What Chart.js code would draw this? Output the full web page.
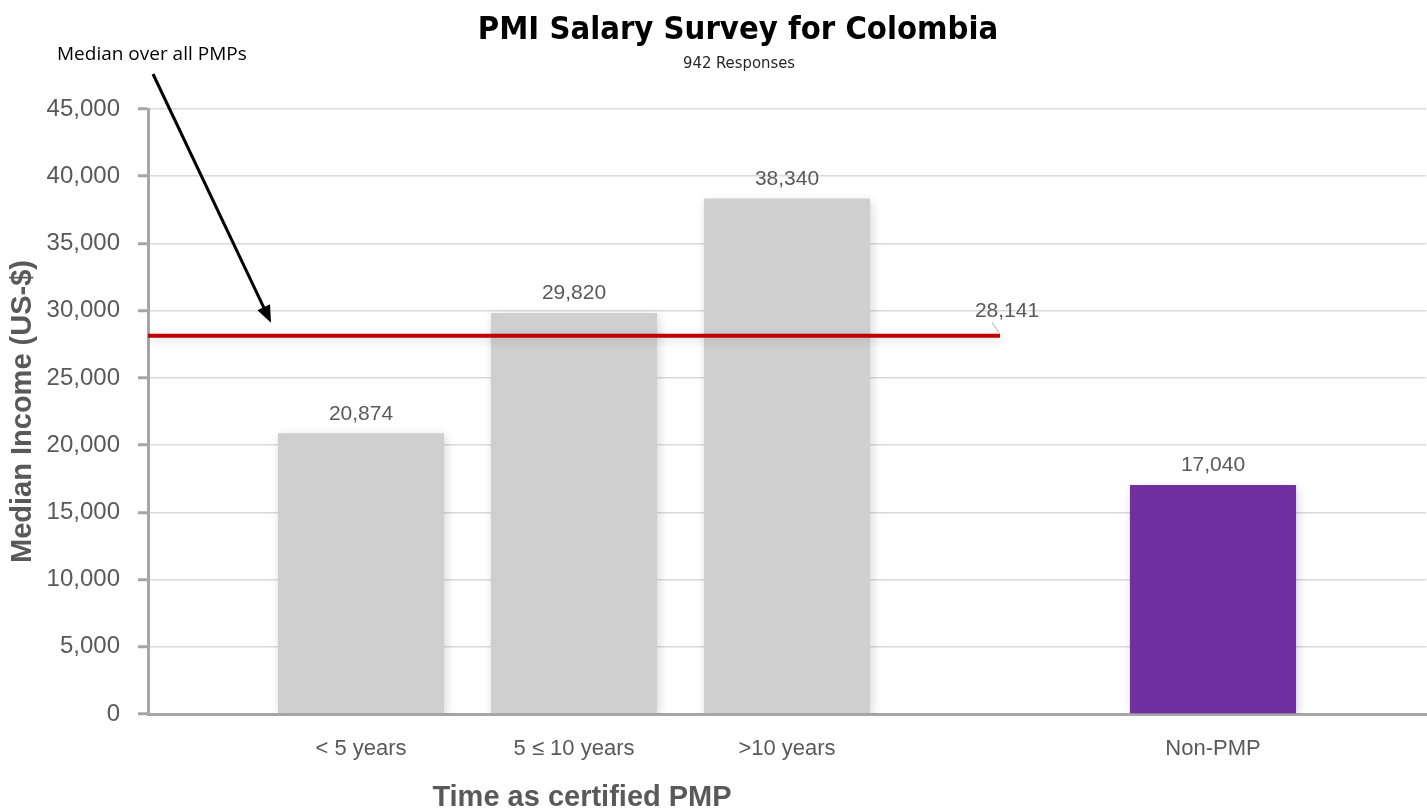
<!DOCTYPE html>
<html>
<head>
<meta charset="utf-8">
<script src="https://cdn.jsdelivr.net/npm/chart.js@4"></script>
<style>
  html, body { margin: 0; background: #fff; overflow: hidden; }
  #wrap { width: 1427px; height: 810px; position: relative; }
  canvas { display: block; }
</style>
</head>
<body>
<div id="wrap"><canvas id="chart"></canvas></div>
<script>
// categories - empty slots keep the spacing of the original chart
const categories = ["", "< 5 years", "5 \u2264 10 years", ">10 years", "", "Non-PMP", ""];
// median income per group (US-$)
const medianIncome = [null, 20874, 29820, 38340, null, 17040, null];
// median over all PMPs, drawn as a flat line
const medianAllPMPs = [28141, 28141, 28141, 28141, 28141, null, null];
const barColors = ["#cfcfcf", "#cfcfcf", "#cfcfcf", "#cfcfcf", "#cfcfcf", "#7030a0", "#cfcfcf"];
const yMin = 0;
const yMax = 45000;
const yStep = 5000;

const titleText = "PMI Salary Survey for Colombia";
const subtitleText = "942 Responses";
const noteText = "Median over all PMPs";

const fmt = (v) => v.toLocaleString("en-US");
const greyText = "#595959";

// soft shadow under bars and line
const shadowPlugin = {
  id: "shadow",
  beforeDatasetDraw(chart) {
    const ctx = chart.ctx;
    ctx.save();
    ctx.shadowColor = "rgba(0,0,0,0.16)";
    ctx.shadowBlur = 10;
    ctx.shadowOffsetX = 2;
    ctx.shadowOffsetY = 3;
  },
  afterDatasetDraw(chart) {
    chart.ctx.restore();
  },
};

// value labels above bars and at the end of the median line
const valueLabels = {
  id: "valueLabels",
  afterDatasetsDraw(chart) {
    const ctx = chart.ctx;
    ctx.save();
    ctx.fillStyle = greyText;
    ctx.font = "21px 'Liberation Sans', Arial, sans-serif";
    ctx.textAlign = "center";
    ctx.textBaseline = "bottom";
    const bars = chart.getDatasetMeta(0).data;
    bars.forEach((el, i) => {
      if (medianIncome[i] == null) return;
      ctx.fillText(fmt(medianIncome[i]), el.x, el.y - 9);
    });
    // label for the line, at its last point
    const pts = chart.getDatasetMeta(1).data;
    let last = 0;
    medianAllPMPs.forEach((v, i) => { if (v != null) last = i; });
    const p = pts[last];
    ctx.fillText(fmt(medianAllPMPs[last]), p.x + 7, p.y - 14);
    ctx.strokeStyle = "#a6a6a6";
    ctx.lineWidth = 1;
    ctx.beginPath();
    ctx.moveTo(p.x - 8, p.y - 13);
    ctx.lineTo(p.x - 1, p.y - 3);
    ctx.stroke();
    ctx.restore();
  },
};

// titles, note with arrow and x axis title
const decorations = {
  id: "decorations",
  afterDraw(chart) {
    const ctx = chart.ctx;
    const x = chart.scales.x;
    const y = chart.scales.y;
    ctx.save();
    ctx.textAlign = "center";
    ctx.textBaseline = "alphabetic";
    ctx.fillStyle = "#000";
    ctx.font = "bold 32.5px 'Liberation Sans Narrow', 'DejaVu Sans Condensed', sans-serif";
    ctx.fillText(titleText, 738, 39);
    ctx.fillStyle = "#262626";
    ctx.font = "16.5px 'Liberation Sans Narrow', 'DejaVu Sans Condensed', sans-serif";
    ctx.fillText(subtitleText, 739, 68);

    ctx.fillStyle = "#000";
    ctx.font = "19px 'Open Sans', 'Liberation Sans', sans-serif";
    ctx.textAlign = "left";
    ctx.fillText(noteText, 57, 60);

    // arrow from the note to the line
    const x0 = 153, y0 = 74;
    const x1 = 271, y1 = y.getPixelForValue(medianAllPMPs[0]) - 13;
    const ang = Math.atan2(y1 - y0, x1 - x0);
    ctx.strokeStyle = "#000";
    ctx.lineWidth = 3;
    ctx.beginPath();
    ctx.moveTo(x0, y0);
    ctx.lineTo(x1 - 12 * Math.cos(ang), y1 - 12 * Math.sin(ang));
    ctx.stroke();
    ctx.beginPath();
    ctx.moveTo(x1, y1);
    ctx.lineTo(x1 - 17 * Math.cos(ang) + 7 * Math.sin(ang), y1 - 17 * Math.sin(ang) - 7 * Math.cos(ang));
    ctx.lineTo(x1 - 17 * Math.cos(ang) - 7 * Math.sin(ang), y1 - 17 * Math.sin(ang) + 7 * Math.cos(ang));
    ctx.closePath();
    ctx.fill();

    // x axis title sits under the PMP groups
    ctx.fillStyle = greyText;
    ctx.textAlign = "center";
    ctx.font = "bold 29px 'Liberation Sans', Arial, sans-serif";
    ctx.fillText("Time as certified PMP", x.getPixelForValue(2) + 8, 806);
    ctx.restore();
  },
};

const ctx = document.getElementById("chart").getContext("2d");
Chart.defaults.font.family = "'Liberation Sans', Arial, sans-serif";

new Chart(ctx, {
  type: "bar",
  data: {
    labels: categories,
    datasets: [
      {
        label: "Median income",
        data: medianIncome,
        backgroundColor: barColors,
        barPercentage: 0.78,
        categoryPercentage: 1,
        order: 1,
      },
      {
        type: "line",
        label: "Median over all PMPs",
        data: medianAllPMPs,
        borderColor: "#c00000",
        borderWidth: 4,
        pointRadius: 0,
        fill: false,
        order: 0,
      },
    ],
  },
  options: {
    responsive: true,
    maintainAspectRatio: false,
    animation: false,
    layout: { padding: { top: 109, right: 1, bottom: 0, left: 0 } },
    plugins: {
      legend: { display: false },
      tooltip: { enabled: false },
    },
    scales: {
      x: {
        offset: false,
        // invisible tick marks give the gap under the axis
        grid: {
          display: true,
          drawOnChartArea: false,
          color: "rgba(0,0,0,0)",
          tickColor: "rgba(0,0,0,0)",
          tickLength: 22,
        },
        border: { color: "#a6a6a6", width: 3 },
        ticks: {
          color: greyText,
          font: { size: 22 },
          padding: 0,
          autoSkip: false,
          maxRotation: 0,
        },
        afterFit(scale) { scale.height = 96; },
      },
      y: {
        min: yMin,
        max: yMax,
        grid: {
          color: "#d9d9d9",
          lineWidth: 1.5,
          tickLength: 10,
          tickColor: "#a6a6a6",
          tickWidth: 3,
        },
        border: { color: "#a6a6a6", width: 3 },
        ticks: {
          stepSize: yStep,
          color: greyText,
          font: { size: 24 },
          padding: 18,
          callback: (v) => fmt(v),
        },
        title: {
          display: true,
          text: "Median Income (US-$)",
          color: greyText,
          font: { size: 29, weight: "bold" },
          padding: { top: 6, bottom: 0 },
        },
        afterFit(scale) { scale.width = 148; },
      },
    },
  },
  plugins: [shadowPlugin, valueLabels, decorations],
});
</script>
</body>
</html>
